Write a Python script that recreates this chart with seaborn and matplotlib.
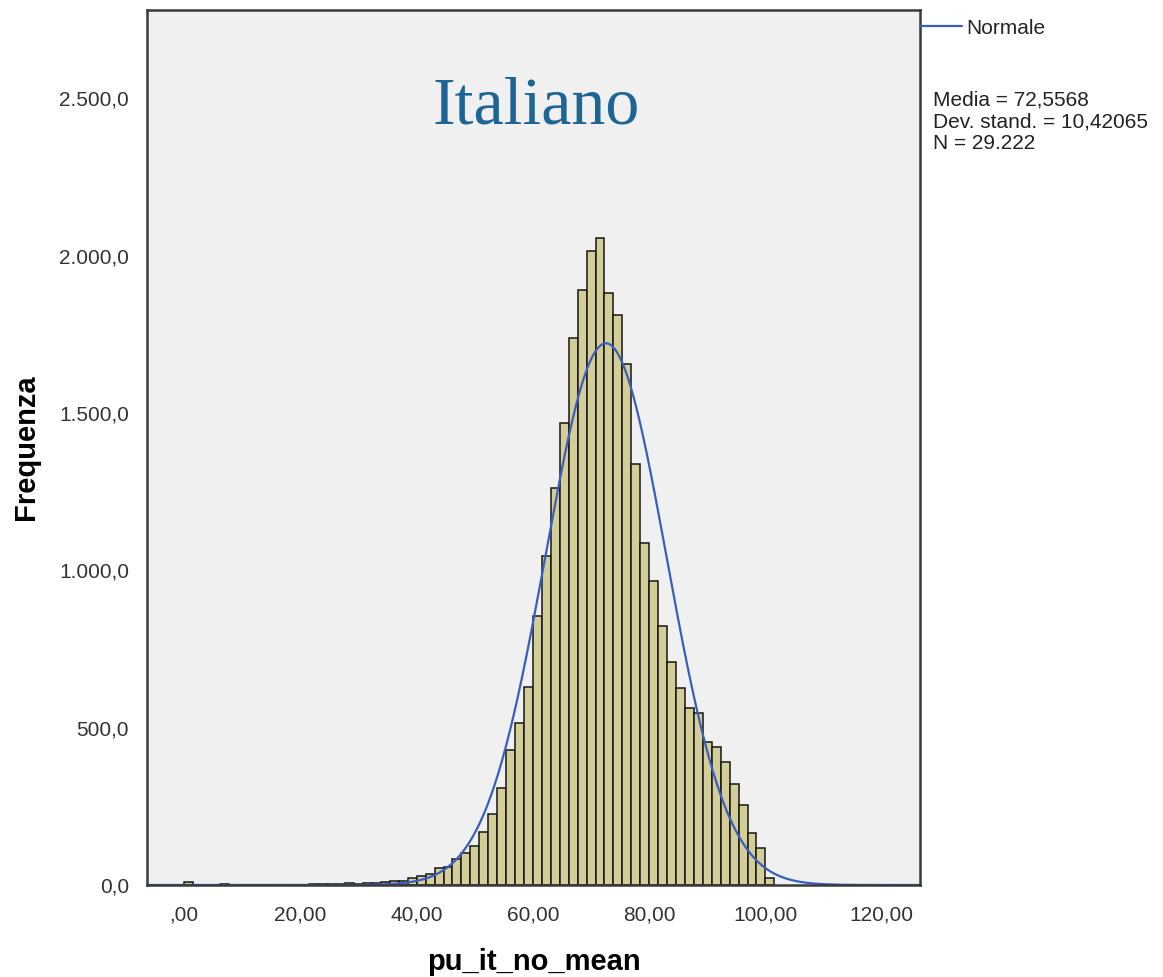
import numpy as np
import pandas as pd
import matplotlib
matplotlib.use("Agg")
import matplotlib.pyplot as plt
import seaborn as sns

# ---------------- data ----------------
# frequencies of each histogram bin (bin width 20/13, first bin starts at 0)
counts = [8, 1, 0, 1, 3, 1, 0, 1, 0, 0, 1, 0, 1, 1, 3, 2, 2, 4, 5, 4, 6, 7, 9, 13,
          14, 21, 29, 36, 53, 58, 82, 103, 125, 167, 225, 307, 429, 514,
          630, 854, 1045, 1260, 1467, 1737, 1890, 2015, 2056, 1880, 1811, 1655, 1337,
          1085, 966, 824, 707, 625, 561, 545, 453, 439, 392, 321, 254, 164, 117, 21]
bin_start = 0.0
bin_width = 20.0 / 13.0

mean_val = 72.5568
sd_val = 10.42065
n_val = 29222

x_ticks = [0, 20, 40, 60, 80, 100, 120]
x_tick_labels = [",00", "20,00", "40,00", "60,00", "80,00", "100,00", "120,00"]
y_ticks = [0, 500, 1000, 1500, 2000, 2500]
y_tick_labels = ["0,0", "500,0", "1.000,0", "1.500,0", "2.000,0", "2.500,0"]

title_text = "Italiano"
x_label = "pu_it_no_mean"
y_label = "Frequenza"
legend_label = "Normale"
stats_text = ("Media = " + f"{mean_val:.4f}".replace(".", ",") + "\n"
              "Dev. stand. = " + f"{sd_val:.5f}".replace(".", ",") + "\n"
              "N = " + f"{n_val:,}".replace(",", "."))

# ---------------- derived structures ----------------
edges = [bin_start + i * bin_width for i in range(len(counts) + 1)]
centers = [e + bin_width / 2 for e in edges[:-1]]
df = pd.DataFrame({"value": centers, "freq": counts})

xs = np.linspace(-7, 127, 600)
ys = n_val * bin_width * np.exp(-0.5 * ((xs - mean_val) / sd_val) ** 2) / (sd_val * np.sqrt(2 * np.pi))
curve = pd.DataFrame({"x": xs, "y": ys})

# ---------------- style ----------------
sns.set_theme(style="white")
plt.rcParams["font.family"] = ["Liberation Sans", "DejaVu Sans"]

bar_color = "#D3CE97"
line_color = "#3A5EBF"
frame_color = "#3a3a3a"
text_gray = "#333333"

fig = plt.figure(figsize=(11.63, 9.77), dpi=100)
ax = fig.add_axes([147 / 1163, 92 / 977, 773 / 1163, 875 / 977])
ax.set_facecolor("#F0F0F0")

sns.histplot(data=df, x="value", weights="freq", bins=edges, color=bar_color,
             edgecolor="#151515", linewidth=1.1, alpha=1.0, ax=ax)
sns.lineplot(data=curve, x="x", y="y", color=line_color, linewidth=1.6,
             label=legend_label, ax=ax)

ax.set_xlim(-6.4, 126.6)
ax.set_ylim(0, 2780)
ax.set_xticks(x_ticks)
ax.set_xticklabels(x_tick_labels)
ax.set_yticks(y_ticks)
ax.set_yticklabels(y_tick_labels)
ax.tick_params(axis="both", direction="out", length=9, width=1.5, color=frame_color,
               labelsize=15, labelcolor=text_gray, pad=4)
ax.tick_params(axis="x", pad=6)

for sp in ax.spines.values():
    sp.set_visible(True)
    sp.set_color(frame_color)
    sp.set_linewidth(1.8)

ax.set_xlabel(x_label, fontsize=21, fontweight="bold", color="black", labelpad=17)
ax.set_ylabel(y_label, fontsize=21, fontweight="bold", color="black", labelpad=14)

ax.text(0.504, 0.889, title_text, transform=ax.transAxes, ha="center", va="center",
        fontsize=49, color="#1D6595", family=["Liberation Serif", "DejaVu Serif"])

ax.legend(loc="upper left", bbox_to_anchor=(1.0, 0.99), frameon=False,
          handlelength=2.0, handletextpad=0.2, borderaxespad=0, borderpad=0,
          fontsize=15)

ax.text(1.0168, 0.908, stats_text, transform=ax.transAxes, ha="left", va="top",
        fontsize=15, color="#222222", linespacing=1.2)

fig.savefig("out.png", dpi=100)
